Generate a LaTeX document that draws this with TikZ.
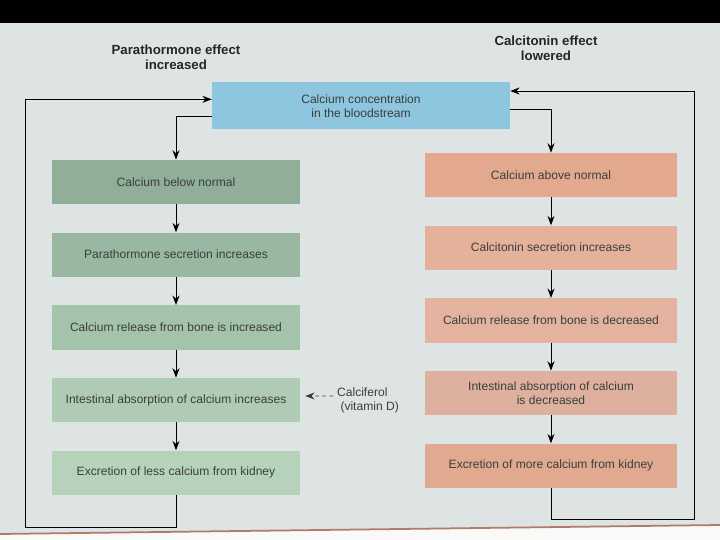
\documentclass[tikz,border=0pt]{standalone}
\usepackage{fontspec}
\setmainfont{Liberation Sans}
\usetikzlibrary{arrows.meta,positioning}
\definecolor{paper}{HTML}{DEE4E3}
\definecolor{ink}{HTML}{3A3F3E}
\definecolor{sky}{HTML}{8EC6DF}
\definecolor{greenA}{HTML}{91AE98}
\definecolor{greenB}{HTML}{9AB7A1}
\definecolor{greenC}{HTML}{A5C2AA}
\definecolor{greenD}{HTML}{AFCBB3}
\definecolor{greenE}{HTML}{B7D2BB}
\definecolor{salmonA}{HTML}{E2A98F}
\definecolor{salmonB}{HTML}{E6B19B}
\definecolor{salmonC}{HTML}{E4B39F}
\definecolor{salmonD}{HTML}{DDB19D}
\definecolor{salmonE}{HTML}{E1AA90}
\definecolor{rule}{HTML}{B27A68}

\begin{document}
\begin{tikzpicture}[x=0.03cm,y=-0.03cm,node distance=2.18cm,on grid,
  >={Stealth[length=8pt,width=6pt]},
  box/.style={minimum height=1.33cm,align=center,text=ink,inner sep=2pt,
    font=\fontsize{10.3}{12}\selectfont},
  lbox/.style={box,minimum width=7.44cm},
  rbox/.style={box,minimum width=7.53cm},
  head/.style={align=center,text=black!85,font=\bfseries\fontsize{11.3}{12.5}\selectfont}]
\useasboundingbox (0,0) rectangle (720,540);
\fill[paper] (0,23) rectangle (720,540);
\fill[black] (0,0) rectangle (720,23);
\fill[paper!85!rule!15!white] (0,534) -- (720,525) -- (720,540) -- (0,540) -- cycle;
\draw[rule,line width=1.5pt] (0,534) -- (720,525);

\node[head] (pth) at (176,57) {Parathormone effect\\increased};
\node[head] (ctn) at (546,48) {Calcitonin effect\\lowered};

\node[box,fill=sky,minimum width=8.94cm,minimum height=1.41cm] (blood) at (361,106)
  {Calcium concentration\\in the bloodstream};

% low calcium side
\node[lbox,fill=greenA] (l1) at (176,182) {Calcium below normal};
\node[lbox,fill=greenB] (l2) [below=of l1] {Parathormone secretion increases};
\node[lbox,fill=greenC] (l3) [below=of l2] {Calcium release from bone is increased};
\node[lbox,fill=greenD] (l4) [below=of l3] {Intestinal absorption of calcium increases};
\node[lbox,fill=greenE] (l5) [below=of l4] {Excretion of less calcium from kidney};

% high calcium side
\node[rbox,fill=salmonA] (r1) at (551,175) {Calcium above normal};
\node[rbox,fill=salmonB] (r2) [below=of r1] {Calcitonin secretion increases};
\node[rbox,fill=salmonC] (r3) [below=of r2] {Calcium release from bone is decreased};
\node[rbox,fill=salmonD] (r4) [below=of r3] {Intestinal absorption of calcium\\is decreased};
\node[rbox,fill=salmonE] (r5) [below=of r4] {Excretion of more calcium from kidney};

\node[align=left,text=ink,font=\fontsize{10.3}{12}\selectfont] (vitd) at (368,400)
  {Calciferol\\\ (vitamin D)};

\coordinate (loopL) at (25,527);
\coordinate (loopR) at (694,519);

\path[->,thick]
(l1) edge (l2)
(l2) edge (l3)
(l3) edge (l4)
(l4) edge (l5);
\path[->,thick]
(r1) edge (r2)
(r2) edge (r3)
(r3) edge (r4)
(r4) edge (r5);

\draw[->,thick] ([yshift=-0.32cm]blood.west) -| (l1.north);
\draw[->,thick] ([yshift=-0.1cm]blood.east) -| (r1.north);
\draw[->,thick] (l5.south) |- (loopL) |- ([yshift=0.2cm]blood.west);
\draw[->,thick] (r5.south) |- (loopR) |- ([yshift=0.45cm]blood.east);
\draw[->,thick,dashed,ink] ([yshift=0.12cm]vitd.west) -- ([xshift=0.15cm,yshift=0.12cm]l4.east);
\end{tikzpicture}
\end{document}
